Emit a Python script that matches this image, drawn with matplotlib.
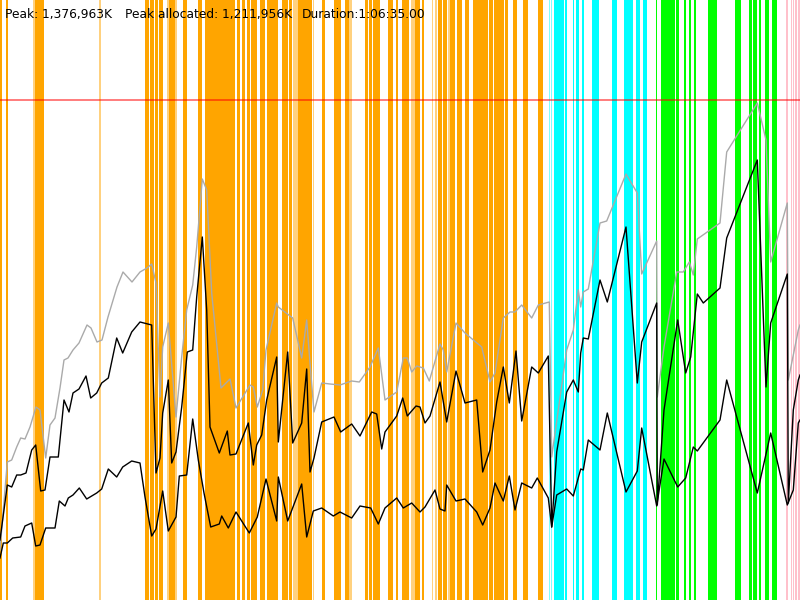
import matplotlib
matplotlib.use("Agg")
import matplotlib.pyplot as plt

# ---- header texts ----
peak_text = "Peak: 1,376,963K"
alloc_text = "Peak allocated: 1,211,956K"
dur_text = "Duration:1:06:35.00"

# time axis spans 0..800 units (whole run), memory axis 0..600 units; peak = 500
PEAK_LEVEL = 500

# ---- total (peak) memory, grey ----
grey_t = [0, 2.7, 7.3, 11.7, 16.7, 20.7, 25, 30, 36, 40, 45.7, 50, 55, 60, 64, 68, 73, 79, 87, 91,
          97, 102, 108, 117, 123, 132, 140, 147, 151.7, 156, 160, 162.7, 168.3, 176, 181.7, 186.7,
          192.7, 196.7, 202.3, 206.7, 211.7, 221, 230, 236, 250, 253.3, 257.3, 262.7, 266, 276.7,
          278.3, 292.7, 301.7, 306.7, 310, 314, 321.7, 330, 340, 351.7, 359.3, 370, 378.3, 385,
          396.7, 403.3, 407.3, 411.7, 416.7, 423.3, 429.3, 440, 443.3, 446.7, 456, 465, 481.7, 490,
          495, 503.3, 510, 515, 521.7, 531.7, 538.3, 549.3, 551.7, 566.7, 573.3, 578.3, 580.7,
          583.3, 588.3, 600, 606.7, 626, 637.3, 641.7, 656.7, 657.3, 664, 676.7, 683.3, 689.3,
          693.3, 697.3, 720, 726.7, 757.3, 766, 770.7, 787.3, 788.3, 798.3, 800]
grey_v = [50, 83, 138, 140, 153, 162, 161, 173, 193, 190, 142, 175, 182, 212, 240, 242, 250, 257, 275, 272,
          258, 260, 283, 313, 328, 318, 328, 332, 336, 317, 203, 253, 277, 183, 243, 290, 315, 353, 421, 410,
          307, 212, 221, 192, 215, 213, 193, 210, 250, 297, 293, 282, 242, 280, 237, 188, 217, 216, 215, 219,
          218, 233, 252, 200, 208, 242, 242, 228, 234, 232, 219, 256, 250, 228, 277, 267, 253, 218, 227, 282,
          288, 288, 295, 282, 295, 298, 143, 250, 270, 310, 293, 308, 311, 377, 379, 426, 407, 326, 359, 203,
          253, 328, 328, 338, 325, 361, 377, 448, 497, 460, 338, 397, 220, 270, 275]

# ---- allocated memory, upper black ----
alloc_t = [0, 7.3, 11.7, 16.7, 20.7, 26, 31.7, 35.7, 40.7, 45, 50, 58.3, 64, 69, 73, 79, 86, 90.7, 96.7,
           101.7, 108.3, 116.7, 122.7, 131.7, 140, 151.7, 156, 160, 162.7, 168.3, 171.7, 176, 181.7,
           187.3, 192.7, 196.7, 202.3, 206.7, 210, 219.3, 227.3, 230, 236, 248.3, 253.3, 256.7, 261.7,
           266.7, 276.7, 278.3, 287.7, 292.7, 301.7, 306.7, 310, 314, 321.7, 334, 340.7, 351.7, 360,
           371.7, 376.7, 381.7, 385, 396.7, 402.7, 407.3, 416, 420, 425, 430, 440, 446.7, 456, 465,
           476.7, 482.7, 490, 496.7, 503.3, 509.3, 516, 521.7, 531.7, 538.3, 548.3, 551.7, 556.7,
           566.7, 573.3, 578.3, 580.7, 583.3, 588.3, 600, 607.3, 626, 637.3, 641.7, 656.7, 657.3, 664,
           677.7, 685.7, 690.7, 697.3, 703.3, 720, 726.7, 757.3, 766, 770.7, 787.3, 788.3, 793.3,
           798.3, 800]
alloc_v = [60, 115, 113, 125, 125, 127, 150, 155, 109, 110, 143, 143, 200, 188, 207, 211, 224, 202, 207, 217,
           222, 262, 247, 268, 278, 275, 127, 142, 187, 220, 137, 148, 193, 248, 250, 303, 363, 290, 173, 147,
           169, 145, 146, 177, 135, 155, 165, 200, 243, 158, 248, 157, 177, 231, 128, 142, 178, 183, 168, 176,
           164, 188, 186, 151, 168, 184, 202, 184, 194, 193, 177, 184, 218, 178, 229, 197, 200, 128, 150, 198,
           233, 197, 249, 179, 233, 227, 244, 73, 148, 208, 220, 208, 247, 262, 261, 320, 298, 373, 217, 258,
           297, 95, 190, 280, 227, 243, 306, 297, 312, 362, 440, 213, 277, 326, 97, 190, 220, 225]

# ---- lower black series ----
low_t = [0, 3.3, 7.3, 12.7, 20.7, 25, 31.7, 35.7, 40, 45.7, 55, 59.3, 65, 68.3, 73, 79.3, 86.7, 96.7,
         101.7, 108.3, 116.7, 122.7, 131.7, 140, 145, 151.7, 156, 162.7, 168.3, 176, 179.3, 186.7,
         192.7, 198.3, 204, 210.7, 219.3, 221.7, 228.3, 236, 249.3, 257.3, 266, 276.7, 278.3, 287.7,
         301.7, 306.7, 313.3, 321.7, 333.3, 340, 351.7, 360, 370.7, 378.3, 385, 396.7, 403.3, 411.7,
         420, 425, 435, 440, 445, 446.7, 456, 465, 476.7, 482.7, 490, 495, 503.3, 509.3, 515, 521.7,
         531.7, 537.3, 548.3, 551.7, 556.7, 566.7, 573.3, 580.7, 583.3, 588.3, 600, 607.3, 626,
         637.3, 641.7, 656.7, 664, 677.7, 685.7, 693.3, 697.3, 720, 726.7, 757.3, 770.7, 787.3,
         793.3, 798.3, 800]
low_v = [42, 57, 57, 62, 63, 74, 77, 54, 55, 72, 72, 99, 94, 102, 105, 112, 101, 107, 111, 131,
         123, 133, 139, 137, 103, 64, 71, 109, 69, 83, 124, 125, 181, 140, 107, 73, 76, 84, 72, 88,
         67, 83, 121, 79, 123, 79, 116, 63, 89, 92, 84, 88, 82, 94, 92, 76, 92, 102, 92, 97,
         88, 93, 110, 91, 89, 115, 99, 101, 88, 75, 92, 117, 99, 124, 90, 117, 112, 122, 102, 73,
         105, 111, 104, 131, 130, 160, 150, 187, 108, 129, 172, 94, 141, 113, 122, 153, 149, 180, 220, 107,
         167, 95, 110, 177, 180]

# ---- event intervals (start, end) ----
orange_events = [(0, 2), (6, 7.5), (35, 44), (144.7, 148.5), (149.7, 153.5), (154.7, 158.3), (159.3, 163),
                 (169, 175), (183, 186.7), (198, 201.7), (205, 220.5), (221.3, 235), (237, 240.3),
                 (241.5, 245), (246.5, 250), (250.7, 257), (260, 265.3), (266.7, 277.7), (281.7, 287.7),
                 (288.7, 291.7), (298, 311.7), (322.3, 325), (334.3, 341), (345, 349), (365, 368.3),
                 (369, 371.7), (373.3, 380), (387.7, 393.3), (395.7, 398.3), (401.7, 409.3), (415, 420),
                 (421.7, 424.3), (438.3, 441.7), (443.3, 446.7), (450, 455), (456.7, 461.7), (465, 469),
                 (473.3, 488), (488.6, 493), (493.6, 504.3), (505, 507.7), (513.3, 516.7), (523.3, 528.3),
                 (538.3, 543)]
orange_faint = [(33, 35), (99, 100.7), (167, 169), (175, 176.5), (293, 298), (312.7, 314.3),
                (349, 352.3), (411, 415), (431.7, 433.3), (435, 436.7), (448, 450)]
cyan_events = [(554, 564), (565, 566.7), (572.7, 574), (576, 579.3), (581.7, 584), (592.3, 599),
               (611.7, 616.7), (624, 632.7), (636, 640), (643.3, 646.7)]
cyan_faint = [(548.5, 550), (550.5, 551.7)]
green_events = [(655.7, 657.3), (660.5, 674.5), (676, 678.5), (684, 685.7), (689.3, 691),
                (694.3, 696), (708.3, 716.7), (735, 740.7), (749.3, 751.7), (752.7, 757.3),
                (758.7, 760.7), (765, 769), (771.7, 777.3)]
pink_events = [(786, 787.5), (790.5, 792), (793, 794), (795, 797), (798, 799.5)]

fig = plt.figure(figsize=(8, 6), dpi=100)
ax = fig.add_axes([0, 0, 1, 1])
ax.set_xlim(0, 800)
ax.set_ylim(0, 600)
ax.axis("off")

for spans, col, a in [(orange_events, "#FFA500", 1.0), (orange_faint, "#FFA500", 0.5),
                      (cyan_events, "#00FFFF", 1.0), (cyan_faint, "#00FFFF", 0.5),
                      (green_events, "#00FF00", 1.0), (pink_events, "#FFC0CB", 1.0)]:
    for s, e in spans:
        ax.axvspan(s, e, color=col, alpha=a, lw=0, zorder=1)

ax.axhline(PEAK_LEVEL, color="#ff0000", alpha=0.6, lw=1.2, zorder=2)

ax.plot(grey_t, grey_v, color="#aaaaaa", lw=1.0, zorder=3)
ax.plot(alloc_t, alloc_v, color="black", lw=1.0, zorder=4)
ax.plot(low_t, low_v, color="black", lw=1.0, zorder=4)

fs = 8.8
fig.text(5 / 800, 1 - 18 / 600, peak_text, fontsize=fs, family="DejaVu Sans", va="baseline", color="black")
fig.text(125 / 800, 1 - 18 / 600, alloc_text, fontsize=fs, family="DejaVu Sans", va="baseline", color="black")
fig.text(302 / 800, 1 - 18 / 600, dur_text, fontsize=fs, family="DejaVu Sans", va="baseline", color="black")

fig.savefig("out.png", dpi=100)
